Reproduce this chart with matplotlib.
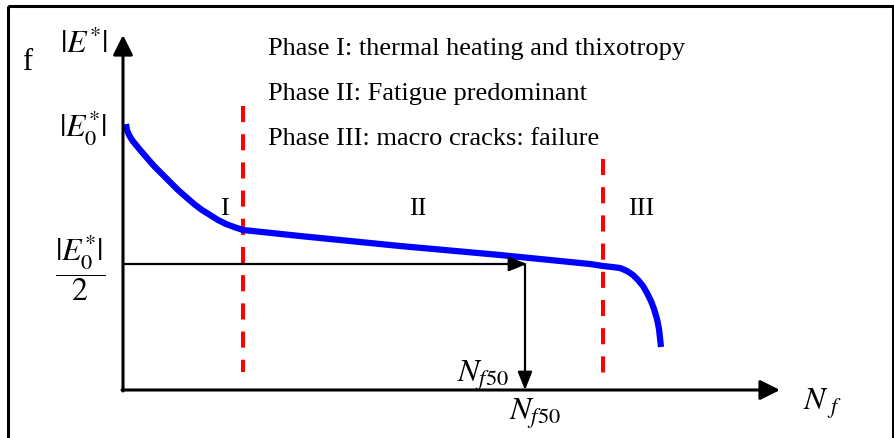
import numpy as np
import matplotlib.pyplot as plt
from matplotlib.patches import Rectangle

plt.rcParams['mathtext.fontset'] = 'stix'
plt.rcParams['font.family'] = ['Liberation Serif', 'DejaVu Serif']

# schematic drawn in pixel coordinates of the original picture
curve_x = [126, 127, 129, 132, 136, 141, 147, 154, 162, 170, 178, 186, 194, 202, 210, 218, 226, 234, 243,
           300, 400, 500, 590, 603, 612, 620, 627, 633, 638, 643, 647, 651, 654, 657, 659, 660, 661]
curve_y = [125, 131, 136, 141, 146, 152, 159, 167, 175, 183, 191, 198, 205, 211, 216, 221, 225, 228, 231,
           237, 247, 256, 265, 267, 268, 269, 272, 276, 281, 287, 294, 302, 310, 320, 330, 339, 348]

phase_x = [243, 603]
phase_top = [107, 160]
phase_bottom = [373, 378]
phase_labels = ['I', 'II', 'III']
phase_label_x = [224, 418, 641]
phase_notes = ['Phase I: thermal heating and thixotropy',
               'Phase II: Fatigue predominant',
               'Phase III: macro cracks: failure']

origin = (123, 391)
half_modulus_y = 265
nf50_x = 525

fig = plt.figure(figsize=(8.95, 4.39), dpi=100)
ax = fig.add_axes([0, 0, 1, 1])
ax.set_xlim(0, 895)
ax.set_ylim(439, 0)
ax.axis('off')

# frame
ax.add_patch(Rectangle((8, 7), 885, 450, fill=False, lw=2.2, ec='k'))

# axes with arrows
arrow = dict(arrowstyle='-|>,head_length=0.6,head_width=0.3', lw=2.2, color='k',
             mutation_scale=20, shrinkA=0, shrinkB=0)
ax.annotate('', xy=(origin[0], 36), xytext=(origin[0], origin[1] + 1), arrowprops=arrow)
ax.annotate('', xy=(780, origin[1]), xytext=(origin[0] - 1, origin[1]), arrowprops=arrow)

# half-modulus construction
thin = dict(arrowstyle='-|>,head_length=0.55,head_width=0.22', lw=1.6, color='k',
            mutation_scale=20, shrinkA=0, shrinkB=0)
ax.annotate('', xy=(nf50_x + 2, half_modulus_y), xytext=(origin[0], half_modulus_y), arrowprops=thin)
ax.annotate('', xy=(nf50_x, origin[1]), xytext=(nf50_x, half_modulus_y), arrowprops=thin)

# phase boundaries
for px, top, bot in zip(phase_x, phase_top, phase_bottom):
    ax.plot([px, px], [top, bot], color='red', lw=2.9, dashes=(4, 3))

# modulus curve
ax.plot(curve_x, curve_y, color='blue', lw=4.5, solid_capstyle='butt', solid_joinstyle='round')

# texts
for i, note in enumerate(phase_notes):
    ax.text(268, 55 + 45 * i, note, fontsize=19, va='baseline', ha='left')
for lab, lx in zip(phase_labels, phase_label_x):
    ax.text(lx, 215, lab, fontsize=19, va='baseline', ha='center')

ax.text(22, 70, 'f', fontsize=22, va='baseline')
ax.text(84, 45, r'$|E^{*}|$', fontsize=23, ha='center', va='center')
ax.text(83, 128, r'$|E_0^{*}|$', fontsize=23, ha='center', va='center')
ax.text(80, 268, r'$\dfrac{|E_0^{*}|}{2}$', fontsize=23, ha='center', va='center')
ax.text(483, 376, r'$N_{f50}$', fontsize=23, ha='center', va='center')
ax.text(535, 414, r'$N_{f50}$', fontsize=23, ha='center', va='center')
ax.text(822, 404, r'$N_{\ f}$', fontsize=23, ha='center', va='center')

fig.savefig('out.png', dpi=100)
